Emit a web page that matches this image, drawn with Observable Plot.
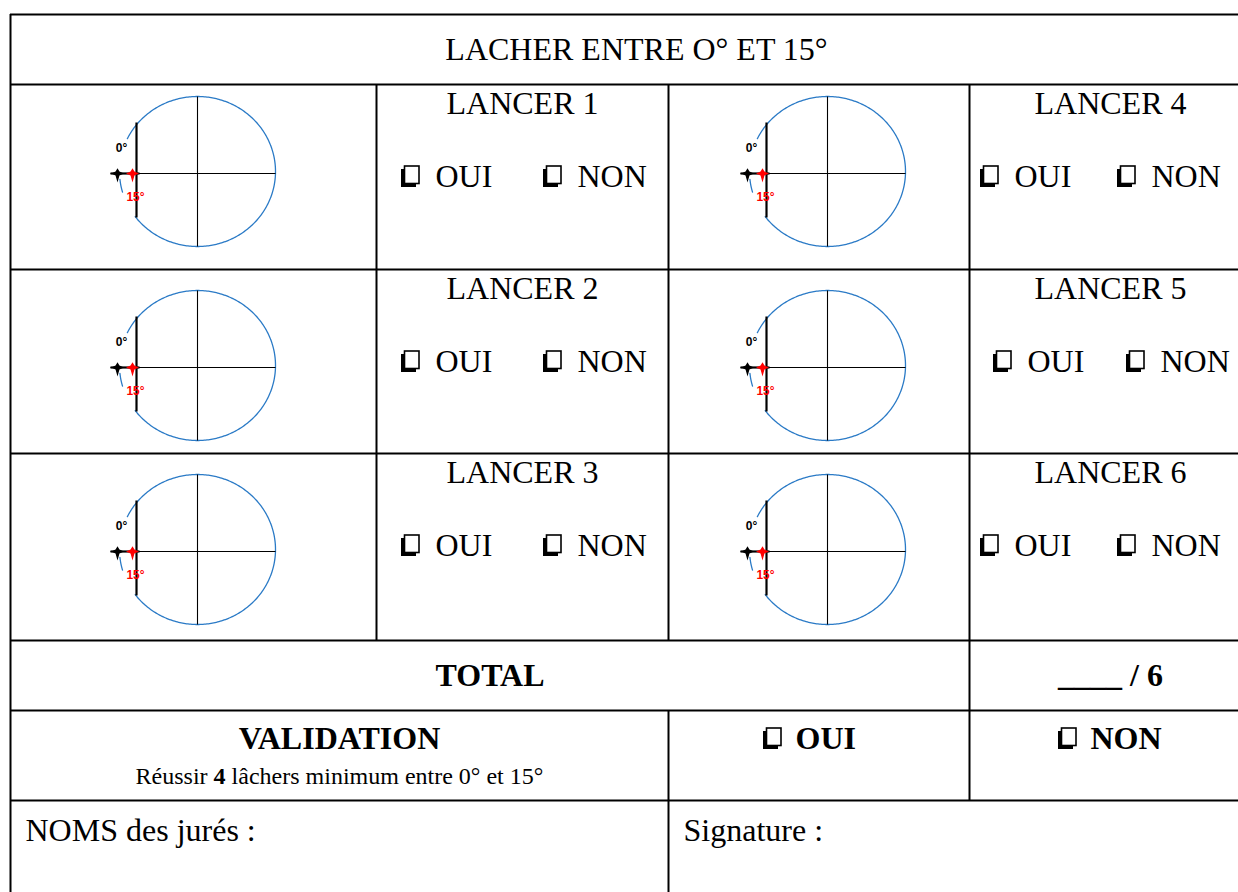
<!DOCTYPE html>
<html><head><meta charset="utf-8">
<script src="https://cdn.jsdelivr.net/npm/d3@7"></script>
<script src="https://cdn.jsdelivr.net/npm/@observablehq/plot@0.6"></script>
<style>body{margin:0;background:#fff}</style>
</head><body><div id="chart"></div>
<script>
// ---------- DATA (content) ----------
const titre = ["LACHER ENTRE O° ET 15°"];
const lancers = ["LANCER 1","LANCER 2","LANCER 3","LANCER 4","LANCER 5","LANCER 6"];
const choix = ["OUI","NON"];
const reperes = ["0°","15°"];
const totalTexte = ["TOTAL","____ / 6"];
const validationTexte = ["VALIDATION"];
const consigne = ["Réussir ","4"," lâchers minimum entre 0° et 15°"];
const consigneGras = [false,true,false];
const validationChoix = ["OUI","NON"];
const jury = ["NOMS des jurés :","Signature :"];

// ---------- LAYOUT ----------
const W = 1238, H = 892;
const serif = "Liberation Serif, Times New Roman, serif";
const sans = "Liberation Sans, Arial, sans-serif";
const FS = 32;
const left = 10, right = 1262;
const rowsY = [14, 84, 269, 453, 640, 710, 800];
const textColX = [522, 1110];
const circleCX = [197, 827];
const circleHY = [173, 367, 551];
const optX = [[[401,543],[401,543],[401,543]], [[980,1117],[993,1126],[980,1117]]];
const blue = "#2a7ac6";

const hRules = rowsY.map(y => ({y, x1: left, x2: right}));
const vRules = [
  {x: left, y1: 14, y2: H}, {x: 376, y1: 84, y2: 640}, {x: 668, y1: 84, y2: 640},
  {x: 668, y1: 710, y2: H}, {x: 969, y1: 84, y2: 800}, {x: right, y1: 14, y2: H}
];

const cells = lancers.map((t, i) => {
  const col = Math.floor(i / 3), row = i % 3;
  return {t, col, row, top: rowsY[1 + row], cx: circleCX[col], hy: circleHY[row]};
});

const lancerText = cells.map(c => ({t: c.t, x: textColX[c.col], y: c.top + 19}));
const boxes = [], words = [];
cells.forEach(c => {
  choix.forEach((w, k) => {
    const x = optX[c.col][c.row][k], yc = c.top + 92;
    boxes.push({x, yc});
    words.push({t: w, x: x + 34, y: yc, bold: false});
  });
});
const valX = [763, 1058];
validationChoix.forEach((w, k) => {
  boxes.push({x: valX[k], yc: 738});
  words.push({t: w, x: valX[k] + 32, y: 738, bold: true});
});
const shadowRects = boxes.map(b => ({x1: b.x, x2: b.x + 15, y1: b.yc - 7, y2: b.yc + 11}));
const mainRects = boxes.map(b => ({x1: b.x + 3.5, x2: b.x + 18, y1: b.yc - 10, y2: b.yc + 7.5}));

// circle geometry
const rx = 78, ry = 75;
const arcs = [];
cells.forEach((c, i) => {
  const cy = c.hy - 2;
  [[-143, 154], [186, 196]].forEach(([a0, a1], j) => {
    for (let a = a0; a <= a1; a += 1) {
      const r = a * Math.PI / 180;
      arcs.push({z: i * 2 + j, x: c.cx + rx * Math.cos(r), y: cy - ry * Math.sin(r)});
    }
  });
});
const thinLinks = [], thickLinks = [];
cells.forEach(c => {
  const cy = c.hy - 2;
  thinLinks.push({x1: c.cx, y1: cy - ry, x2: c.cx, y2: cy + ry});
  thinLinks.push({x1: c.cx - 87, y1: c.hy, x2: c.cx + rx, y2: c.hy});
  thickLinks.push({x1: c.cx - 61, y1: c.hy - 51, x2: c.cx - 61, y2: c.hy + 44});
  thickLinks.push({x1: c.cx - 87, y1: c.hy, x2: c.cx - 58, y2: c.hy});
});
const stars = cells.flatMap(c => [
  {x: c.cx - 80, y: c.hy, color: "black"},
  {x: c.cx - 65, y: c.hy, color: "red"}
]);
const angleLabels = cells.flatMap(c => [
  {t: reperes[0], x: c.cx - 76, y: c.hy - 25, color: "black"},
  {t: reperes[1], x: c.cx - 62, y: c.hy + 24, color: "red"}
]);

const starSymbol = {
  draw(ctx, size) {
    const r = Math.sqrt(size / Math.PI);
    ctx.moveTo(0, -r * 0.8);
    ctx.lineTo(r * 0.3, -r * 0.3);
    ctx.lineTo(r, 0);
    ctx.lineTo(r * 0.3, r * 0.3);
    ctx.lineTo(0, r * 1.4);
    ctx.lineTo(-r * 0.3, r * 0.3);
    ctx.lineTo(-r, 0);
    ctx.lineTo(-r * 0.3, -r * 0.3);
    ctx.closePath();
  }
};

// consigne with bold "4"
const cv = document.createElement("canvas").getContext("2d");
const cfs = 24;
const widths = consigne.map((s, i) => { cv.font = `${consigneGras[i] ? "bold " : ""}${cfs}px Liberation Serif`; return cv.measureText(s).width; });
const totalW = d3.sum(widths);
let cxs = 339 - totalW / 2;
const consigneParts = consigne.map((s, i) => { const o = {t: s, x: cxs, y: 776, bold: consigneGras[i]}; cxs += widths[i]; return o; });

const chart = Plot.plot({
  width: W, height: H,
  margin: 0,
  x: {domain: [0, W], range: [0, W], axis: null},
  y: {domain: [0, H], range: [0, H], axis: null},
  style: {background: "#fff"},
  marks: [
    Plot.line(arcs, {x: "x", y: "y", z: "z", stroke: blue, strokeWidth: 1.3}),
    Plot.link(thinLinks, {x1: "x1", y1: "y1", x2: "x2", y2: "y2", stroke: "black", strokeWidth: 1.1}),
    Plot.link(thickLinks, {x1: "x1", y1: "y1", x2: "x2", y2: "y2", stroke: "black", strokeWidth: 2.2}),
    Plot.dot(stars, {x: "x", y: "y", r: 6.5, symbol: starSymbol, fill: "color", stroke: "none"}),
    Plot.text(angleLabels, {x: "x", y: "y", text: "t", fill: "color", fontSize: 12, fontWeight: "bold", fontFamily: sans}),
    Plot.ruleY(hRules, {y: "y", x1: "x1", x2: "x2", stroke: "black", strokeWidth: 2}),
    Plot.ruleX(vRules, {x: "x", y1: "y1", y2: "y2", stroke: "black", strokeWidth: 2}),
    Plot.text(titre, {x: 636, y: 49, text: d => d, fontSize: FS, fontFamily: serif, fill: "black"}),
    Plot.text(lancerText, {x: "x", y: "y", text: "t", fontSize: FS, fontFamily: serif, fill: "black"}),
    Plot.rect(shadowRects, {x1: "x1", x2: "x2", y1: "y1", y2: "y2", fill: "black"}),
    Plot.rect(mainRects, {x1: "x1", x2: "x2", y1: "y1", y2: "y2", fill: "white", stroke: "black", strokeWidth: 1.6}),
    Plot.text(words.filter(d => !d.bold), {x: "x", y: "y", text: "t", textAnchor: "start", fontSize: FS, fontFamily: serif, fill: "black"}),
    Plot.text(words.filter(d => d.bold), {x: "x", y: "y", text: "t", textAnchor: "start", fontSize: FS, fontWeight: "bold", fontFamily: serif, fill: "black"}),
    Plot.text([totalTexte[0]], {x: 489.5, y: 675, text: d => d, fontSize: FS, fontWeight: "bold", fontFamily: serif, fill: "black"}),
    Plot.text([totalTexte[1]], {x: 1110, y: 675, text: d => d, fontSize: FS, fontWeight: "bold", fontFamily: serif, fill: "black"}),
    Plot.text(validationTexte, {x: 339, y: 738, text: d => d, fontSize: FS, fontWeight: "bold", fontFamily: serif, fill: "black"}),
    Plot.text(consigneParts.filter(d => !d.bold), {x: "x", y: "y", text: "t", textAnchor: "start", fontSize: cfs, fontFamily: serif, fill: "black"}),
    Plot.text(consigneParts.filter(d => d.bold), {x: "x", y: "y", text: "t", textAnchor: "start", fontSize: cfs, fontWeight: "bold", fontFamily: serif, fill: "black"}),
    Plot.text(jury, {x: (d, i) => [25, 683][i], y: 830, text: d => d, textAnchor: "start", fontSize: FS, fontFamily: serif, fill: "black"})
  ]
});
document.getElementById("chart").appendChild(chart);
</script>
</body></html>
